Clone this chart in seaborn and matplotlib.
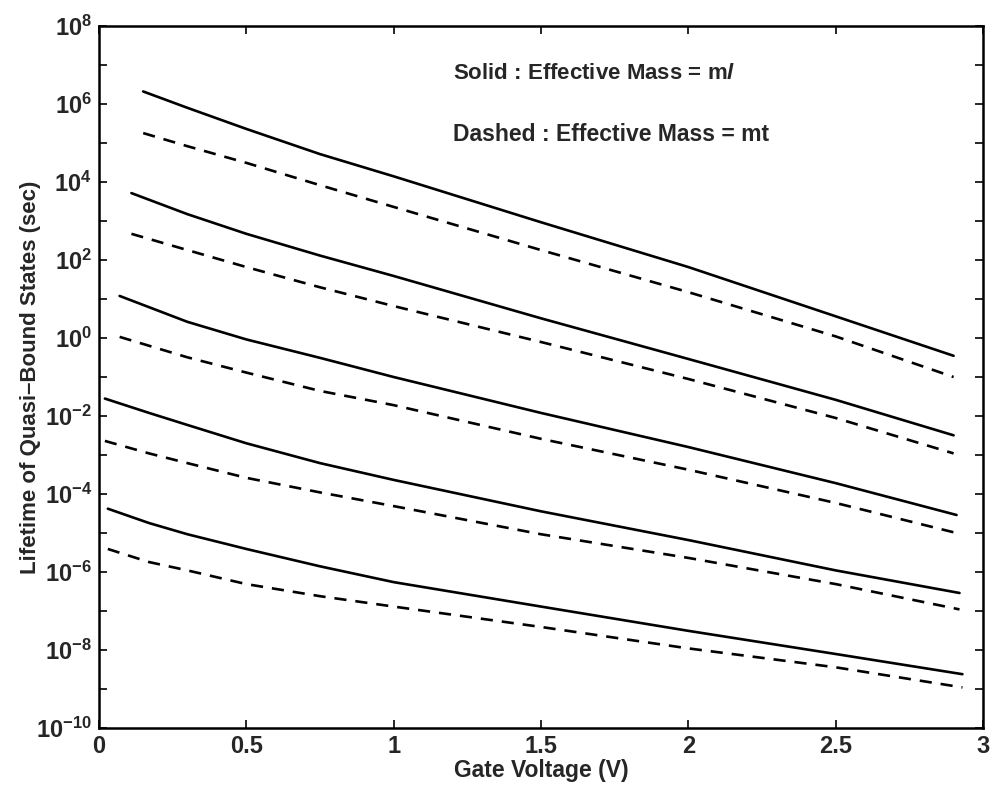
import numpy as np
import pandas as pd
import matplotlib
matplotlib.use("Agg")
import matplotlib.pyplot as plt
import seaborn as sns

# ---- data (Gate Voltage in V, lifetime in sec) ----
x_pair1 = [0.15, 0.30, 0.50, 0.75, 1.00, 1.50, 2.00, 2.50, 2.90]
solid_1 = [2.1e6, 8.0e5, 2.3e5, 5.2e4, 1.4e4, 9.3e2, 66, 3.6, 0.35]
dashed_1 = [1.8e5, 8.3e4, 3.1e4, 8.3e3, 2.3e3, 1.8e2, 15, 1.1, 0.10]

x_pair2 = [0.11, 0.30, 0.50, 0.75, 1.00, 1.50, 2.00, 2.50, 2.90]
solid_2 = [5.2e3, 1.5e3, 4.7e2, 1.3e2, 39, 3.2, 0.29, 2.6e-2, 3.2e-3]
dashed_2 = [4.7e2, 1.8e2, 66, 20, 6.6, 0.79, 8.9e-2, 8.9e-3, 1.1e-3]

x_pair3 = [0.07, 0.30, 0.50, 0.75, 1.00, 1.50, 2.00, 2.50, 2.91]
solid_3 = [12, 2.6, 0.92, 0.31, 0.10, 1.2e-2, 1.6e-3, 1.9e-4, 2.9e-5]
dashed_3 = [1.07, 0.32, 0.13, 4.4e-2, 1.9e-2, 2.6e-3, 4.2e-4, 5.9e-5, 1.0e-5]

x_pair4 = [0.02, 0.17, 0.30, 0.50, 0.75, 1.00, 1.50, 2.00, 2.50, 2.92]
solid_4 = [2.8e-2, 1.2e-2, 5.9e-3, 2.0e-3, 6.2e-4, 2.3e-4, 3.6e-5, 6.6e-6, 1.1e-6, 2.9e-7]
dashed_4 = [2.3e-3, 1.1e-3, 6.2e-4, 2.6e-4, 1.1e-4, 4.9e-5, 9.3e-6, 2.3e-6, 4.9e-7, 1.1e-7]

x_pair5 = [0.03, 0.17, 0.30, 0.50, 0.75, 1.00, 1.50, 2.00, 2.50, 2.93]
solid_5 = [4.2e-5, 1.8e-5, 9.3e-6, 3.9e-6, 1.4e-6, 5.5e-7, 1.3e-7, 3.1e-8, 7.9e-9, 2.4e-9]
dashed_5 = [3.9e-6, 1.8e-6, 1.1e-6, 4.9e-7, 2.4e-7, 1.3e-7, 3.9e-8, 1.1e-8, 3.6e-9, 1.1e-9]

x_ticks = [0, 0.5, 1, 1.5, 2, 2.5, 3]
x_tick_labels = ["0", "0.5", "1", "1.5", "2", "2.5", "3"]
y_exponents = list(range(-10, 9))
x_label = "Gate Voltage (V)"
y_label = "Lifetime of Quasi\u2013Bound States (sec)"
note_solid = "Solid : Effective Mass = m$\\mathit{l}$"
note_dashed = "Dashed : Effective Mass = mt"

# ---- build long table ----
pairs = [
    (x_pair1, solid_1, dashed_1),
    (x_pair2, solid_2, dashed_2),
    (x_pair3, solid_3, dashed_3),
    (x_pair4, solid_4, dashed_4),
    (x_pair5, solid_5, dashed_5),
]
rows = []
for i, (xs, s, d) in enumerate(pairs):
    for xv, yv in zip(xs, s):
        rows.append({"V": xv, "T": yv, "curve": f"s{i}", "mass": "ml"})
    for xv, yv in zip(xs, d):
        rows.append({"V": xv, "T": yv, "curve": f"d{i}", "mass": "mt"})
df = pd.DataFrame(rows)

# ---- style ----
sns.set_style("ticks")
plt.rcParams["font.family"] = ["Liberation Sans", "DejaVu Sans"]
plt.rcParams["font.weight"] = "bold"
plt.rcParams["mathtext.fontset"] = "custom"
plt.rcParams["mathtext.rm"] = "Liberation Sans:bold"
plt.rcParams["mathtext.it"] = "Liberation Sans:italic:bold"
plt.rcParams["mathtext.bf"] = "Liberation Sans:bold"
plt.rcParams["mathtext.default"] = "rm"

fig = plt.figure(figsize=(9.93, 7.89), dpi=100)
ax = fig.add_axes([0.0997, 0.0773, 0.8903, 0.8897])

sns.lineplot(
    data=df, x="V", y="T", units="curve", style="mass",
    estimator=None, color="black", linewidth=1.9,
    dashes={"ml": "", "mt": (4.6, 3.4)}, legend=False, ax=ax,
)

ax.set_yscale("log")
ax.set_xlim(0, 3)
ax.set_ylim(1e-10, 1e8)
ax.set_xticks(x_ticks)
ax.set_xticklabels(x_tick_labels)
ax.set_yticks([10.0 ** k for k in y_exponents])
ax.set_yticklabels([f"$10^{{{k}}}$" if k % 2 == 0 else "" for k in y_exponents])
ax.minorticks_off()
ax.yaxis.set_minor_locator(matplotlib.ticker.NullLocator())

ax.tick_params(axis="both", which="major", direction="in", length=6,
               width=1.4, top=True, right=True, labelsize=17, pad=5)
for sp in ax.spines.values():
    sp.set_visible(True)
    sp.set_linewidth(1.8)
    sp.set_color("black")

ax.set_xlabel(x_label, fontsize=16.5, fontweight="bold", labelpad=1)
ax.set_ylabel(y_label, fontsize=16, fontweight="bold")
ax.yaxis.set_label_coords(-0.066, 0.5)

ax.text(1.20, 10 ** 6.79, note_solid, fontsize=16, fontweight="bold",
        ha="left", va="center")
ax.text(1.20, 10 ** 5.21, note_dashed, fontsize=16.5, fontweight="bold",
        ha="left", va="center")

fig.savefig("out.png", dpi=100)
